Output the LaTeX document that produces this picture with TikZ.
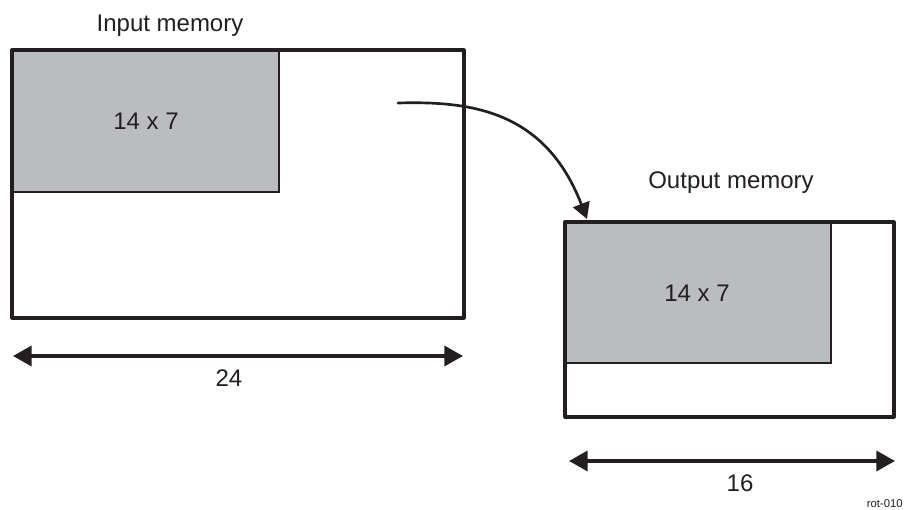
\documentclass[tikz,border=0pt]{standalone}
\usepackage{fontspec}
\setmainfont{Liberation Sans}
\usetikzlibrary{arrows.meta}
\definecolor{memgray}{HTML}{BBBCBF}
\definecolor{ink}{HTML}{231F20}
\begin{document}
\begin{tikzpicture}[x=0.75pt, y=-0.75pt,
    lbl/.style={anchor=base, inner sep=0pt, text=ink, font=\fontsize{18}{20}\selectfont},
    dim/.style={line width=2.6pt, draw=ink, {Triangle[length=14pt, width=15pt]}-{Triangle[length=14pt, width=15pt]}}]
    \useasboundingbox (0,0) rectangle (904,510);
    \fill[white] (0,0) rectangle (904,510);

    \fill[memgray, draw=ink, line width=1.6pt] (12,50) rectangle (279,192);
    \draw[ink, line width=2.4pt, line join=round] (12,50) rectangle (464,318);
    \node[lbl] (inlabel) at (170,32) {Input memory};
    \node[lbl] (insize) at (146,130) {14 x 7};

    \coordinate (inleft) at (13,356);
    \coordinate (inright) at (463,356);
    \draw[dim] (inleft) -- (inright);
    \node[lbl] (inwidth) at (229,386) {24};

    \fill[memgray, draw=ink, line width=1.6pt] (565,222) rectangle (831,363);
    \draw[ink, line width=2.4pt, line join=round] (565,222) rectangle (894,417);
    \node[lbl] (outlabel) at (731,189) {Output memory};
    \node[lbl] (outsize) at (697,301) {14 x 7};

    \coordinate (outleft) at (569,461);
    \coordinate (outright) at (895,461);
    \draw[dim] (outleft) -- (outright);
    \node[lbl] (outwidth) at (740,491) {16};

    \coordinate (src) at (398,103);
    \coordinate (dst) at (587,219);
    \draw[ink, line width=2pt, line cap=round, -{Triangle[length=12pt, width=13pt]}]
        (src) .. controls (470,101) and (545,110) .. (dst);

    \node[anchor=base east, inner sep=0pt, text=ink, font=\fontsize{8.5}{9}\selectfont] (tag) at (903,507) {rot-010};
\end{tikzpicture}
\end{document}
